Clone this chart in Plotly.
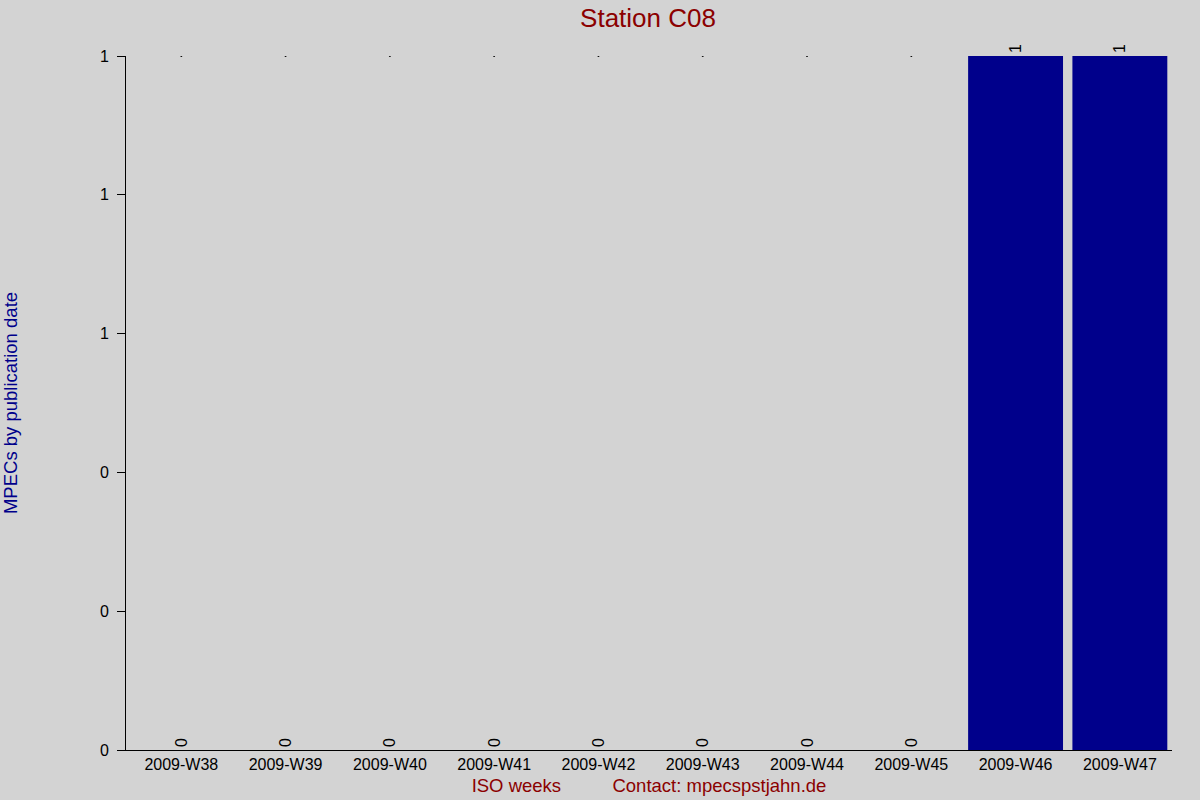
import plotly.graph_objs as go

weeks = ['2009-W38', '2009-W39', '2009-W40', '2009-W41', '2009-W42',
         '2009-W43', '2009-W44', '2009-W45', '2009-W46', '2009-W47']
mpecs = [0, 0, 0, 0, 0, 0, 0, 0, 1, 1]
y_ticks = [0, 0.2, 0.4, 0.6, 0.8, 1.0]

top = max(mpecs)
zero_weeks = [w for w, v in zip(weeks, mpecs) if v == 0]

fig = go.Figure()
fig.add_trace(go.Bar(
    x=weeks, y=mpecs,
    marker=dict(color='#00008B', line=dict(width=0)),
    text=[str(v) for v in mpecs],
    textposition='outside', textangle=-90,
    textfont=dict(family='Liberation Sans, Arial', size=16, color='black'),
    cliponaxis=False,
))
# tiny dots at the top for empty weeks, as in the original
fig.add_trace(go.Scatter(
    x=zero_weeks, y=[top] * len(zero_weeks), mode='markers',
    marker=dict(color='black', size=2), hoverinfo='skip',
))

fig.update_layout(
    width=1200, height=800,
    paper_bgcolor='#D3D3D3', plot_bgcolor='#D3D3D3',
    margin=dict(l=126, r=28, t=56, b=50),
    showlegend=False, bargap=0.09,
    font=dict(family='Liberation Sans, Arial', size=16, color='black'),
    title=dict(text='Station C08', x=0.54, xanchor='center', y=0.978, yanchor='middle',
               font=dict(size=26, color='#8B0000')),
    xaxis=dict(
        showline=True, linecolor='black', linewidth=1, ticks='',
        showgrid=False, zeroline=False, automargin=False,
        title=dict(text='ISO weeks          Contact: mpecspstjahn.de',
                   font=dict(size=18.5, color='#8B0000'), standoff=6),
    ),
    yaxis=dict(
        range=[0, 1], tickvals=y_ticks, tickformat='.0f',
        showline=True, linecolor='black', linewidth=1,
        ticks='outside', ticklen=8, tickcolor='black', ticklabelstandoff=5,
        showgrid=False, zeroline=False, automargin=False,
        title=dict(text='MPECs by publication date',
                   font=dict(size=18.5, color='#00008B'), standoff=84),
    ),
)

fig.write_html('out.html', config={'displayModeBar': False},
               post_script="document.body.style.margin='0';")
